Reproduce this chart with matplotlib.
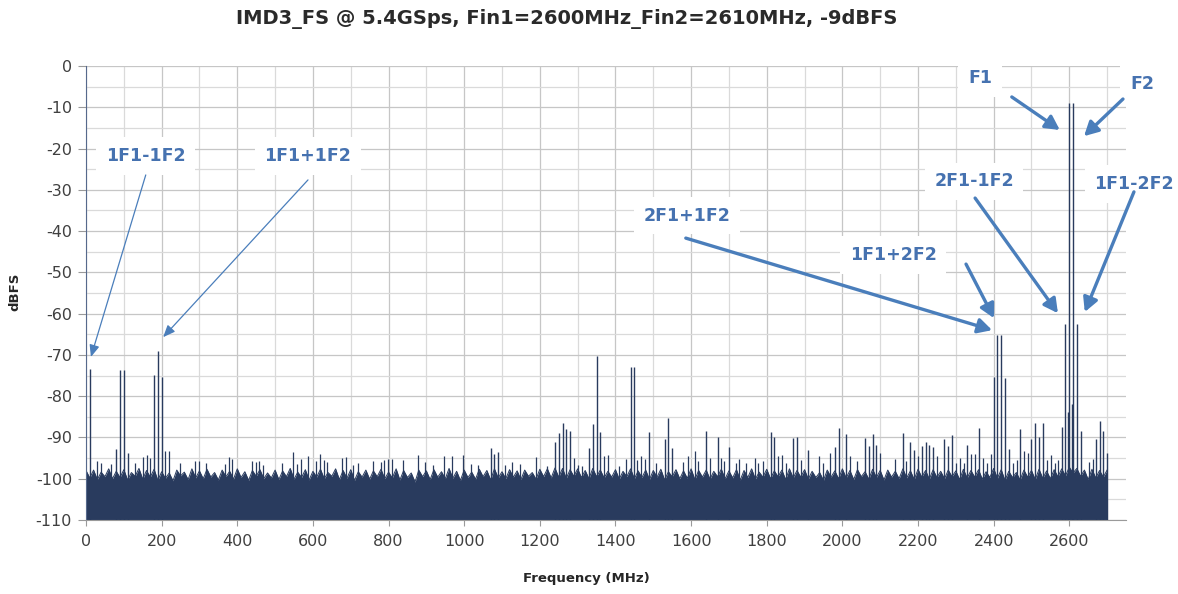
import matplotlib
matplotlib.use("Agg")
import matplotlib.pyplot as plt
import numpy as np
from matplotlib.ticker import MultipleLocator

plt.rcParams['axes.unicode_minus'] = False
plt.rcParams['font.family'] = ['DejaVu Sans']

# ---------------- data ----------------
title = "IMD3_FS @ 5.4GSps, Fin1=2600MHz_Fin2=2610MHz, -9dBFS"
x_label = "Frequency (MHz)"
y_label = "dBFS"

# noise floor top, one value every 10 MHz from 0 to 2700 MHz
noise_freq = np.arange(0, 2701, 10)
noise_db = [
    -98.0, -99.8, -97.9, -100.2, -98.4, -99.5, -97.6, -100.0, -98.2, -99.7,
    -97.8, -100.3, -98.5, -99.4, -97.5, -100.1, -98.0, -99.6, -97.7, -100.4,
    -98.3, -99.9, -98.6, -100.5, -97.9, -99.3, -98.4, -100.2, -97.6, -99.8,
    -98.1, -100.0, -97.7, -99.6, -98.5, -100.3, -97.9, -99.5, -98.2, -100.1,
    -97.6, -99.7, -98.3, -100.4, -98.0, -99.4, -97.8, -100.0, -98.6, -99.8,
    -97.9, -100.2, -98.1, -99.5, -97.5, -100.1, -98.4, -99.7, -97.8, -100.3,
    -98.2, -99.6, -97.7, -100.0, -98.5, -99.4, -97.6, -100.2, -98.0, -99.9,
    -97.8, -100.4, -98.3, -99.6, -97.9, -100.1, -98.1, -99.5, -97.7, -100.0,
    -98.4, -99.8, -97.6, -100.3, -98.0, -99.7, -98.6, -100.8, -97.9, -99.5,
    -98.1, -100.2, -97.8, -99.6, -98.3, -100.0, -97.5, -99.9, -98.2, -100.4,
    -97.9, -99.7, -98.4, -100.1, -97.7, -99.5, -98.0, -100.3, -97.6, -99.8,
    -98.3, -100.0, -97.8, -99.6, -98.1, -100.2, -97.9, -99.4, -98.5, -100.1,
    -97.7, -99.5, -97.6, -99.8, -97.4, -99.6, -97.5, -99.9, -97.8, -99.4,
    -97.6, -99.7, -98.0, -100.0, -97.5, -99.5, -97.9, -99.8, -98.2, -99.6,
    -97.8, -100.1, -98.2, -99.5, -97.6, -100.0, -98.1, -99.7, -97.9, -100.2,
    -98.0, -99.6, -97.7, -100.3, -98.3, -99.5, -97.8, -100.0, -98.1, -99.9,
    -97.6, -100.2, -98.0, -99.6, -97.9, -100.1, -98.2, -99.5, -97.7, -100.0,
    -98.1, -99.8, -97.8, -100.3, -98.0, -99.7, -97.6, -100.1, -98.4, -99.6,
    -97.7, -100.0, -98.1, -99.5, -97.9, -100.2, -97.6, -99.8, -98.0, -99.6,
    -97.8, -100.1, -98.2, -99.7, -98.5, -100.4, -97.9, -99.6, -98.1, -100.0,
    -97.6, -99.8, -98.0, -100.2, -97.8, -99.5, -98.3, -100.1, -97.7, -99.7,
    -98.0, -100.3, -97.9, -99.6, -98.2, -100.0, -97.6, -99.8, -98.1, -100.2,
    -97.7, -99.6, -98.0, -100.1, -97.8, -99.7, -98.2, -100.0, -97.9, -99.5,
    -98.1, -100.2, -97.7, -99.8, -98.0, -99.6, -97.8, -100.1, -98.3, -99.7,
    -97.5, -99.9, -97.8, -100.4, -98.2, -99.7, -98.5, -100.3, -97.9, -99.6,
    -98.0, -100.2, -97.7, -99.9, -98.1, -100.0, -97.8, -99.5, -97.6, -99.3,
    -97.2, -98.6, -97.5, -99.4, -97.9, -100.2, -97.7, -99.8, -98.0, -99.6,
    -97.9,
]

# fundamental tones
tone_freq = [2600, 2610]
tone_db = [-9.0, -9.0]

# harmonic / intermodulation products (aliased)
imd_freq = [10, 180, 190, 200, 2400, 2410, 2420, 2430, 2590, 2620]
imd_db = [-73.3, -74.9, -69.1, -75.3, -75.3, -65.2, -65.2, -75.7, -62.6, -62.6]

# other spurs
spur_freq = [
    80, 90, 100, 110, 1070, 1080, 1090, 1240, 1250, 1260,
    1270, 1280, 1330, 1340, 1350, 1360, 1440, 1450, 1490, 1530,
    1540, 1550, 1640, 1670, 1700, 1810, 1820, 1870, 1880, 1910,
    1980, 1990, 2010, 2060, 2070, 2080, 2090, 2160, 2180, 2190,
    2210, 2220, 2230, 2240, 2270, 2280, 2290, 2330, 2360, 2440,
    2470, 2500, 2510, 2520, 2530, 2580, 2597, 2606, 2630, 2670,
    2680, 2690, 2700,
]
spur_db = [
    -92.8, -73.7, -73.7, -93.7, -92.5, -94.0, -93.5, -91.0, -89.0, -86.5,
    -88.0, -88.4, -92.5, -86.8, -70.3, -88.6, -72.9, -72.9, -88.7, -90.4,
    -85.4, -92.6, -88.4, -90.0, -92.4, -88.6, -89.8, -90.2, -89.8, -93.0,
    -92.2, -87.8, -89.1, -90.2, -92.0, -89.1, -91.8, -89.0, -91.0, -93.0,
    -92.0, -91.0, -91.8, -92.4, -90.4, -92.0, -89.4, -91.8, -87.8, -92.8,
    -88.0, -90.4, -86.6, -89.8, -86.5, -87.4, -83.8, -82.0, -88.5, -90.4,
    -86.0, -88.4, -93.7,
]

# small spikes just above the noise floor
floor_freq = [
    28, 39, 66, 129, 150, 160, 170, 210, 220, 248,
    288, 298, 317, 368, 378, 387, 438, 449, 458, 469,
    517, 548, 558, 568, 588, 607, 619, 629, 638, 678,
    687, 707, 718, 758, 779, 789, 799, 808, 837, 879,
    897, 917, 947, 967, 998, 1018, 1037, 1108, 1127, 1148,
    1189, 1218, 1290, 1301, 1311, 1369, 1379, 1409, 1427, 1457,
    1468, 1479, 1508, 1579, 1591, 1610, 1619, 1649, 1679, 1688,
    1718, 1728, 1744, 1769, 1778, 1789, 1829, 1840, 1850, 1890,
    1939, 1950, 1968, 2019, 2039, 2100, 2139, 2169, 2200, 2251,
    2301, 2310, 2321, 2341, 2351, 2372, 2382, 2393, 2451, 2461,
    2480, 2490, 2540, 2551, 2561, 2571, 2652, 2662,
]
floor_db = [
    -95.6, -96.3, -96.5, -96.2, -94.7, -94.3, -95.0, -93.3, -93.3, -96.2,
    -95.6, -95.6, -96.2, -96.5, -94.8, -95.2, -95.6, -95.9, -95.7, -96.6,
    -96.3, -93.6, -96.5, -95.2, -94.4, -95.6, -94.1, -95.4, -95.9, -95.0,
    -94.8, -96.6, -96.2, -95.6, -95.9, -95.4, -95.3, -95.2, -95.4, -94.2,
    -95.9, -96.6, -94.5, -94.5, -94.3, -96.5, -96.6, -96.6, -95.9, -96.5,
    -94.8, -97.0, -95.0, -96.7, -96.8, -94.6, -94.2, -96.9, -95.3, -95.4,
    -94.5, -95.3, -96.1, -96.0, -94.6, -93.4, -95.6, -95.0, -95.0, -95.6,
    -96.2, -95.3, -96.2, -94.9, -96.2, -95.8, -94.6, -94.2, -96.2, -95.4,
    -94.6, -96.2, -93.8, -94.6, -95.8, -93.8, -95.3, -95.6, -94.6, -94.6,
    -96.2, -95.0, -96.2, -94.0, -94.0, -95.0, -96.2, -94.0, -96.2, -95.4,
    -93.4, -93.7, -95.4, -94.2, -96.2, -95.4, -96.0, -95.3,
]

# annotation labels: text position, arrow start, arrow end (data coords)
ann_text = ["1F1-1F2", "1F1+1F2", "F1", "F2", "2F1-1F2", "1F1-2F2", "1F1+2F2", "2F1+1F2"]
ann_text_pos = [(158, -21.8), (587, -21.8), (2364, -2.9), (2792, -4.4),
                (2348, -27.9), (2771, -28.6), (2134, -45.8), (1589, -36.3)]
ann_arrow_from = [(158, -26.4), (587, -27.6), (2448, -7.5), (2742, -8.0),
                  (2351, -32.0), (2771, -30.5), (2327, -48.0), (1586, -41.7)]
ann_arrow_to = [(13, -70.5), (204, -65.7), (2575, -15.5), (2639, -17.0),
                (2570, -59.9), (2641, -59.6), (2401, -61.1), (2396, -64.0)]
ann_thin = [True, True, False, False, False, False, False, False]

# ---------------- style ----------------
BAR = "#293B5E"
TXT_BLUE = "#4672B0"
ARR_BLUE = "#4A7EBB"
TICK_COL = "#404040"

fig = plt.figure(figsize=(11.78, 5.94), dpi=100)
ax = fig.add_axes([86 / 1178, 74 / 594, 1040 / 1178, 454 / 594])

ymin = -110
ax.fill_between(noise_freq, noise_db, ymin, color=BAR, lw=0, zorder=2)
ax.plot(noise_freq, noise_db, color=BAR, lw=0.7, zorder=2)
ax.vlines(floor_freq, ymin, floor_db, colors=BAR, lw=0.9, zorder=2)
ax.vlines(spur_freq, ymin, spur_db, colors=BAR, lw=1.0, zorder=3)
ax.vlines(imd_freq, ymin, imd_db, colors=BAR, lw=1.0, zorder=3)
ax.vlines(tone_freq, ymin, tone_db, colors=BAR, lw=1.0, zorder=3)

ax.set_xlim(0, 2750)
ax.set_ylim(ymin, 0)
ax.xaxis.set_major_locator(MultipleLocator(200))
ax.xaxis.set_minor_locator(MultipleLocator(100))
ax.yaxis.set_major_locator(MultipleLocator(10))
ax.yaxis.set_minor_locator(MultipleLocator(5))
ax.set_axisbelow(True)
ax.grid(which='major', color='#c6c6c6', lw=0.9, zorder=0)
ax.grid(which='minor', color='#dadada', lw=0.9, zorder=0)

for s in ['top', 'right']:
    ax.spines[s].set_visible(False)
ax.spines['left'].set_color('#56698C')
ax.spines['bottom'].set_color('#9A9A9A')

ax.tick_params(which='minor', length=0)
ax.tick_params(axis='y', which='major', length=6, color='#9A9A9A',
               labelsize=11.5, labelcolor=TICK_COL, pad=4)
ax.tick_params(axis='x', which='major', length=4, color='#9A9A9A',
               labelsize=11.5, labelcolor=TICK_COL, pad=6)

ax.set_xlabel(x_label, fontsize=9.5, fontweight='bold', color='#262626')
ax.xaxis.set_label_coords((586 - 86) / 1040, (520 - 572) / 454)
ax.set_ylabel(y_label, fontsize=9.5, fontweight='bold', color='#262626')
ax.yaxis.set_label_coords((21 - 86) / 1040, (520 - 292) / 454)

fig.suptitle(title, x=567 / 1178, y=1 - 19 / 594, ha='center', va='center',
             fontsize=14, fontweight='bold', color='#2a2a2a')

for txt, tpos, a0, a1, thin in zip(ann_text, ann_text_pos, ann_arrow_from,
                                   ann_arrow_to, ann_thin):
    ax.text(tpos[0], tpos[1], txt, ha='center', va='center', fontsize=12.5,
            fontweight='bold', color=TXT_BLUE, zorder=5, clip_on=False,
            bbox=dict(boxstyle='square,pad=0.55', fc='white', ec='none'))
    if thin:
        props = dict(arrowstyle='-|>,head_length=0.6,head_width=0.25',
                     color=ARR_BLUE, lw=0.9, shrinkA=0, shrinkB=0,
                     mutation_scale=12)
    else:
        props = dict(arrowstyle='-|>,head_length=0.6,head_width=0.32',
                     color=ARR_BLUE, lw=2.4, shrinkA=0, shrinkB=0,
                     mutation_scale=14)
    ax.annotate("", xy=a1, xytext=a0, arrowprops=props,
                annotation_clip=False, zorder=6)

fig.savefig("out.png", dpi=100)
